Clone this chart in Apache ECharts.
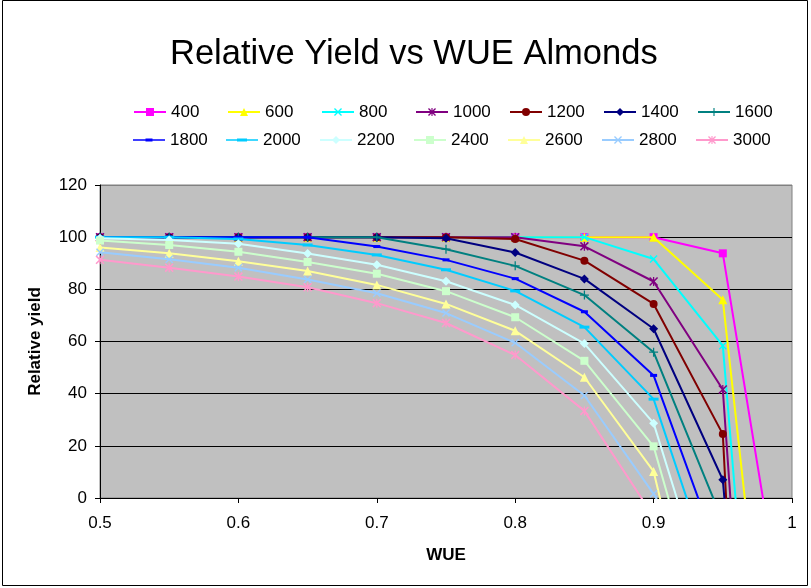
<!DOCTYPE html>
<html>
<head>
<meta charset="utf-8">
<script src="https://cdn.jsdelivr.net/npm/echarts@6/dist/echarts.min.js"></script>
<style>
  html, body { margin: 0; padding: 0; background: #ffffff; }
  #chart { width: 811px; height: 588px; }
</style>
</head>
<body>
<div id="chart"></div>
<script>
// WUE values along the x axis
const wue = [0.5, 0.55, 0.6, 0.65, 0.7, 0.75, 0.8, 0.85, 0.9, 0.95, 1.0];

// Relative yield for each applied water amount (series stop after first negative value)
const y400  = [100, 100, 100, 100, 100, 100, 100, 100, 100, 93.8, -68];
const y600  = [100, 100, 100, 100, 100, 100, 100, 100, 100, 76, -163];
const y800  = [100, 100, 100, 100, 100, 100, 100, 100, 91.6, 58.4, -260];
const y1000 = [100, 100, 100, 100, 100, 100, 100, 96.5, 83, 41.6, -338];
const y1200 = [100, 100, 100, 100, 100, 100, 99.3, 91, 74.4, 24.5, -490];
const y1400 = [100, 100, 100, 100, 100, 99.6, 94.1, 84, 64.9, 7, -300];
const y1600 = [100, 100, 100, 100, 100, 95.4, 89, 77.8, 55.9, -9];
const y1800 = [100, 100, 100, 100, 96.4, 91.3, 84.1, 71.4, 47, -26];
const y2000 = [100, 100, 99.3, 97, 93.2, 87.5, 79.4, 65.5, 37.9, -41.5];
const y2200 = [99.6, 98.9, 97.5, 93.7, 89.4, 83.1, 74, 59.2, 28.7, -57];
const y2400 = [98.7, 97, 94.4, 90.5, 86, 79.3, 69.3, 52.6, 19.8, -73];
const y2600 = [96, 93.8, 90.8, 87, 81.7, 74.4, 64.1, 46.3, 10.2, -100];
const y2800 = [94.2, 91.5, 88.3, 83.8, 78.5, 70.9, 59.5, 39.3, 1.6, -45];
const y3000 = [91.3, 88.3, 84.9, 80.8, 74.7, 67.1, 54.8, 33.4, -7.1];

const seriesNames = ['400', '600', '800', '1000', '1200', '1400', '1600',
                     '1800', '2000', '2200', '2400', '2600', '2800', '3000'];
const seriesValues = [y400, y600, y800, y1000, y1200, y1400, y1600,
                      y1800, y2000, y2200, y2400, y2600, y2800, y3000];

// Axis settings
const xMin = 0.5, xMax = 1.0, xStep = 0.1;
const yMin = 0, yMax = 120, yStep = 20;

// Marker shapes
const X_PATH = 'path://M0,1.2L1.2,0L10,8.8L8.8,10Z M8.8,0L10,1.2L1.2,10L0,8.8Z';
const STAR_PATH = 'path://M0,1.2L1.2,0L10,8.8L8.8,10Z M8.8,0L10,1.2L1.2,10L0,8.8Z M4.3,0L5.7,0L5.7,10L4.3,10Z';
const PLUS_PATH = 'path://M4.3,0L5.7,0L5.7,10L4.3,10Z M0,4.3L10,4.3L10,5.7L0,5.7Z';

const styles = [
  { color: '#FF00FF', symbol: 'rect',     size: 8 },
  { color: '#FFFF00', symbol: 'triangle', size: 9 },
  { color: '#00FFFF', symbol: X_PATH,     size: 8 },
  { color: '#800080', symbol: STAR_PATH,  size: 9 },
  { color: '#800000', symbol: 'circle',   size: 8 },
  { color: '#000080', symbol: 'diamond',  size: 9 },
  { color: '#008080', symbol: PLUS_PATH,  size: 9 },
  { color: '#0000FF', symbol: 'rect',     size: [7, 3] },
  { color: '#00CCFF', symbol: 'rect',     size: [10, 3] },
  { color: '#CCFFFF', symbol: 'diamond',  size: 9 },
  { color: '#CCFFCC', symbol: 'rect',     size: 8 },
  { color: '#FFFF99', symbol: 'triangle', size: 9 },
  { color: '#99CCFF', symbol: X_PATH,     size: 8 },
  { color: '#FF99CC', symbol: STAR_PATH,  size: 9 }
];

const FONT = 'Liberation Sans, Arial, sans-serif';

const series = seriesNames.map((name, k) => ({
  name: name,
  type: 'line',
  data: seriesValues[k].map((v, i) => [wue[i], v]),
  symbol: styles[k].symbol,
  symbolSize: styles[k].size,
  symbolKeepAspect: true,
  clip: true,
  lineStyle: { color: styles[k].color, width: 2 },
  itemStyle: { color: styles[k].color, borderWidth: 0 },
  emphasis: { disabled: true },
  z: 2 + k
}));

// Legend icons for the dash markers: a line with a short bar in the middle
const dashIcon = {
  '1800': 'path://M0,4.2L32,4.2L32,5.8L0,5.8Z M12.5,3.5L19.5,3.5L19.5,6.5L12.5,6.5Z',
  '2000': 'path://M0,4.2L32,4.2L32,5.8L0,5.8Z M11,3.5L21,3.5L21,6.5L11,6.5Z'
};

function legendRow(names, top) {
  return {
    data: names.map(n => dashIcon[n] ? { name: n, icon: dashIcon[n] } : { name: n }),
    left: 128,
    top: top,
    orient: 'horizontal',
    itemWidth: 32,
    itemHeight: 10,
    itemGap: 16,
    selectedMode: false,
    textStyle: { fontSize: 17, fontFamily: FONT, color: '#000', width: 40, lineHeight: 18 }
  };
}

const chart = echarts.init(document.getElementById('chart'), null, { renderer: 'canvas' });
chart.setOption({
  animation: false,
  backgroundColor: '#ffffff',
  title: {
    text: 'Relative Yield vs WUE Almonds',
    left: 165,
    top: 32,
    textStyle: { fontSize: 34.5, fontWeight: 'normal', fontFamily: FONT, color: '#000' }
  },
  legend: [
    legendRow(seriesNames.slice(0, 7), 98),
    legendRow(seriesNames.slice(7), 126)
  ],
  grid: {
    left: 100, right: 19, top: 185, bottom: 90,
    show: true,
    backgroundColor: '#C0C0C0',
    borderColor: '#808080',
    borderWidth: 1,
    containLabel: false
  },
  xAxis: {
    type: 'value',
    min: xMin, max: xMax, interval: xStep,
    name: 'WUE',
    nameLocation: 'middle',
    nameGap: 49,
    nameTextStyle: { fontSize: 17, fontWeight: 'bold', fontFamily: FONT, color: '#000' },
    axisLine: { show: true, lineStyle: { color: '#000', width: 1 } },
    axisTick: { show: true, inside: false, length: 5, lineStyle: { color: '#000' } },
    axisLabel: { fontSize: 17, fontFamily: FONT, color: '#000', margin: 17 },
    splitLine: { show: false }
  },
  yAxis: {
    type: 'value',
    min: yMin, max: yMax, interval: yStep,
    name: 'Relative yield',
    nameLocation: 'middle',
    nameGap: 56,
    nameTextStyle: { fontSize: 17, fontWeight: 'bold', fontFamily: FONT, color: '#000' },
    axisLine: { show: true, lineStyle: { color: '#000', width: 1 } },
    axisTick: { show: true, inside: false, length: 5, lineStyle: { color: '#000' } },
    axisLabel: { fontSize: 17, fontFamily: FONT, color: '#000', margin: 13 },
    splitLine: {
      show: true,
      lineStyle: { color: ['#000', '#000', '#000', '#000', '#000', '#000', '#808080'], width: 1 }
    }
  },
  graphic: [{
    type: 'rect',
    silent: true,
    shape: { x: 2.5, y: 0.5, width: 805, height: 585 },
    style: { fill: 'none', stroke: '#000', lineWidth: 1 },
    z: 100
  }],
  series: series
});
</script>
</body>
</html>
